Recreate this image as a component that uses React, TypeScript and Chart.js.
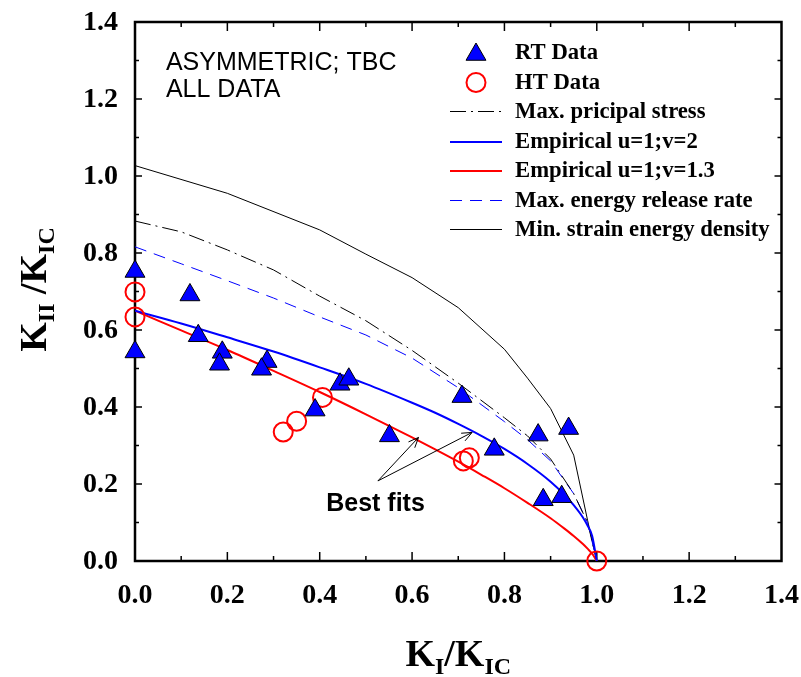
import React, { useEffect, useRef } from "react";
import { Chart, registerables } from "chart.js";
Chart.register(...registerables);

// ---- Data ----
const rtX = [0, 0, 0.119, 0.137, 0.189, 0.183, 0.286, 0.274, 0.444, 0.463, 0.39, 0.551, 0.708, 0.778, 0.873, 0.939, 0.884, 0.924];
const rtY = [0.752, 0.543, 0.691, 0.585, 0.542, 0.511, 0.518, 0.498, 0.459, 0.472, 0.392, 0.325, 0.427, 0.29, 0.327, 0.344, 0.159, 0.167];

const htX = [0, 0, 0.321, 0.35, 0.406, 0.711, 0.724, 1.0];
const htY = [0.699, 0.634, 0.335, 0.363, 0.425, 0.26, 0.268, 0];

const empX = [0, 0.1, 0.2, 0.3, 0.4, 0.5, 0.6, 0.65, 0.7, 0.75, 0.8, 0.85, 0.9, 0.93, 0.95, 0.97, 0.98, 0.99, 1.0];
const emp2Y = [0.65, 0.617, 0.581, 0.544, 0.503, 0.46, 0.411, 0.385, 0.356, 0.325, 0.291, 0.252, 0.206, 0.172, 0.145, 0.113, 0.092, 0.065, 0];
const emp13Y = [0.65, 0.599, 0.548, 0.494, 0.439, 0.381, 0.321, 0.29, 0.258, 0.224, 0.189, 0.151, 0.111, 0.084, 0.065, 0.044, 0.032, 0.019, 0];

const theoX = [0, 0.1, 0.2, 0.3, 0.4, 0.5, 0.6, 0.7, 0.8, 0.85, 0.9, 0.95, 0.98, 1.0];
const mtsY = [0.883, 0.855, 0.808, 0.756, 0.688, 0.624, 0.547, 0.462, 0.372, 0.325, 0.265, 0.175, 0.1, 0];
const merrY = [0.816, 0.772, 0.728, 0.683, 0.634, 0.587, 0.527, 0.45, 0.362, 0.315, 0.26, 0.175, 0.1, 0];

const msedX = [0, 0.2, 0.4, 0.5, 0.6, 0.7, 0.8, 0.85, 0.9, 0.95, 0.98, 1.0];
const msedY = [1.027, 0.955, 0.86, 0.797, 0.736, 0.658, 0.55, 0.475, 0.396, 0.275, 0.106, 0];

const tickValues = [0, 0.2, 0.4, 0.6, 0.8, 1.0, 1.2, 1.4];
const tickLabels = ["0.0", "0.2", "0.4", "0.6", "0.8", "1.0", "1.2", "1.4"];

const legendLabels = [
  "RT Data",
  "HT Data",
  "Max. pricipal stress",
  "Empirical u=1;v=2",
  "Empirical u=1;v=1.3",
  "Max. energy release rate",
  "Min. strain energy density",
];

const noteLines = ["ASYMMETRIC; TBC", "ALL DATA"];
const noteAt = { x: 0.067, y: [1.276, 1.206] };
const fitsLabel = "Best fits";
const fitsAt = { x: 0.414, y: 0.13 };
const arrowStart = { x: 0.526, y: 0.208 };
const arrowEnds = [
  { x: 0.614, y: 0.321 },
  { x: 0.73, y: 0.334 },
];

const zip = (xs: number[], ys: number[]) => xs.map((x, i) => ({ x, y: ys[i] }));

const SERIF = "'Liberation Serif', 'Times New Roman', serif";
const SANS = "'Liberation Sans', Arial, sans-serif";
const BLUE = "#0000ff";
const RED = "#ff0000";

type Part = { t: string; sub?: boolean };

function drawParts(ctx: CanvasRenderingContext2D, parts: Part[], cx: number, baseY: number, main: number, sub: number, subDrop: number) {
  const fm = `bold ${main}px ${SERIF}`;
  const fs = `bold ${sub}px ${SERIF}`;
  let w = 0;
  for (const p of parts) {
    ctx.font = p.sub ? fs : fm;
    w += ctx.measureText(p.t).width;
  }
  let x = cx - w / 2;
  ctx.textAlign = "left";
  ctx.textBaseline = "alphabetic";
  for (const p of parts) {
    ctx.font = p.sub ? fs : fm;
    ctx.fillText(p.t, x, baseY + (p.sub ? subDrop : 0));
    x += ctx.measureText(p.t).width;
  }
}

const overlay = {
  id: "overlay",
  beforeDatasetsDraw(chart: any) {
    const { ctx, chartArea: a, scales } = chart;
    const xs = scales.x;
    const ys = scales.y;
    ctx.save();
    ctx.strokeStyle = "#000";
    ctx.lineWidth = 1.5;
    const line = (x1: number, y1: number, x2: number, y2: number) => {
      ctx.beginPath();
      ctx.moveTo(x1, y1);
      ctx.lineTo(x2, y2);
      ctx.stroke();
    };
    for (let i = 1; i < 14; i++) {
      const v = i / 10;
      const major = i % 2 === 0;
      const px = xs.getPixelForValue(v);
      const lx = major ? 9 : 5;
      line(px, a.bottom, px, a.bottom - lx);
      line(px, a.top, px, a.top + lx);
      const py = ys.getPixelForValue(v);
      const ly = major ? 7 : 4;
      line(a.left, py, a.left + ly, py);
      line(a.right, py, a.right - ly, py);
    }
    ctx.lineWidth = 2.5;
    ctx.strokeRect(a.left, a.top, a.right - a.left, a.bottom - a.top);

    // tick labels
    ctx.fillStyle = "#000";
    ctx.font = `bold 28px ${SERIF}`;
    ctx.textBaseline = "middle";
    tickValues.forEach((v, i) => {
      ctx.textAlign = "right";
      ctx.fillText(tickLabels[i], a.left - 17, ys.getPixelForValue(v) + 1);
      ctx.textAlign = "center";
      ctx.fillText(tickLabels[i], xs.getPixelForValue(v), a.bottom + 35);
    });
    ctx.restore();
  },
  afterDraw(chart: any) {
    const { ctx, chartArea: a, scales } = chart;
    const xs = scales.x;
    const ys = scales.y;
    ctx.save();
    ctx.fillStyle = "#000";

    // Notes
    ctx.font = `25px ${SANS}`;
    ctx.textAlign = "left";
    ctx.textBaseline = "alphabetic";
    noteLines.forEach((t, i) => ctx.fillText(t, xs.getPixelForValue(noteAt.x), ys.getPixelForValue(noteAt.y[i])));

    ctx.font = `bold 25px ${SANS}`;
    ctx.fillText(fitsLabel, xs.getPixelForValue(fitsAt.x), ys.getPixelForValue(fitsAt.y));

    // Arrows
    ctx.strokeStyle = "#000";
    ctx.lineWidth = 1;
    const sx = xs.getPixelForValue(arrowStart.x);
    const sy = ys.getPixelForValue(arrowStart.y);
    for (const e of arrowEnds) {
      const ex = xs.getPixelForValue(e.x);
      const ey = ys.getPixelForValue(e.y);
      ctx.beginPath();
      ctx.moveTo(sx, sy);
      ctx.lineTo(ex, ey);
      ctx.stroke();
      const ang = Math.atan2(ey - sy, ex - sx);
      const hl = 11;
      ctx.beginPath();
      ctx.moveTo(ex - hl * Math.cos(ang - 0.4), ey - hl * Math.sin(ang - 0.4));
      ctx.lineTo(ex, ey);
      ctx.lineTo(ex - hl * Math.cos(ang + 0.4), ey - hl * Math.sin(ang + 0.4));
      ctx.stroke();
    }

    // Legend
    const mx = a.left + 341;
    const l1 = a.left + 315;
    const l2 = a.left + 367;
    const tx = a.left + 380;
    const rowY = (i: number) => Math.round(a.top + 30 + i * 29.5) + 0.5;
    ctx.font = `bold 22.7px ${SERIF}`;
    ctx.textBaseline = "middle";
    legendLabels.forEach((t, i) => {
      ctx.fillStyle = "#000";
      ctx.fillText(t, tx, rowY(i) + 1);
    });
    // triangle
    {
      const r = 11.5;
      const cy = rowY(0) + 2;
      ctx.beginPath();
      for (let k = 0; k < 3; k++) {
        const ang = -Math.PI / 2 + (k * 2 * Math.PI) / 3;
        const px = mx + r * Math.cos(ang);
        const py = cy + r * Math.sin(ang);
        if (k === 0) ctx.moveTo(px, py);
        else ctx.lineTo(px, py);
      }
      ctx.closePath();
      ctx.fillStyle = BLUE;
      ctx.fill();
      ctx.strokeStyle = "#000";
      ctx.lineWidth = 1;
      ctx.stroke();
    }
    // circle
    ctx.beginPath();
    ctx.arc(mx, rowY(1), 9.5, 0, Math.PI * 2);
    ctx.strokeStyle = RED;
    ctx.lineWidth = 2;
    ctx.stroke();
    const legLine = (i: number, color: string, width: number, dash: number[]) => {
      ctx.beginPath();
      ctx.setLineDash(dash);
      ctx.strokeStyle = color;
      ctx.lineWidth = width;
      const y = width % 2 === 0 ? Math.round(rowY(i)) : rowY(i);
      ctx.moveTo(l1, y);
      ctx.lineTo(l2, y);
      ctx.stroke();
      ctx.setLineDash([]);
    };
    legLine(2, "#000", 1, [16, 5, 2, 5]);
    legLine(3, BLUE, 2, []);
    legLine(4, RED, 2, []);
    legLine(5, BLUE, 1, [12, 8]);
    legLine(6, "#000", 1, []);

    // Axis titles
    ctx.fillStyle = "#000";
    const cxp = (a.left + a.right) / 2;
    drawParts(ctx, [{ t: "K" }, { t: "I", sub: true }, { t: "/K" }, { t: "IC", sub: true }], cxp, 666, 38, 24, 8);
    ctx.save();
    ctx.translate(46, (a.top + a.bottom) / 2 - 2);
    ctx.rotate(-Math.PI / 2);
    drawParts(ctx, [{ t: "K" }, { t: "II", sub: true }, { t: " /K" }, { t: "IC", sub: true }], 0, 0, 38, 24, 8);
    ctx.restore();

    ctx.restore();
  },
};

export default function App() {
  const ref = useRef<HTMLCanvasElement>(null);
  useEffect(() => {
    if (!ref.current) return;
    const chart = new Chart(ref.current, {
      type: "scatter",
      data: {
        datasets: [
          {
            label: "RT Data",
            data: zip(rtX, rtY),
            pointStyle: "triangle",
            pointRadius: 11.5,
            pointBackgroundColor: BLUE,
            pointBorderColor: "#000",
            pointBorderWidth: 1,
            showLine: false,
            clip: false,
          } as any,
          {
            label: "HT Data",
            data: zip(htX, htY),
            pointStyle: "circle",
            pointRadius: 9.5,
            pointBackgroundColor: "rgba(0,0,0,0)",
            pointBorderColor: RED,
            pointBorderWidth: 2,
            showLine: false,
            clip: false,
          } as any,
          {
            label: "Empirical u=1;v=2",
            data: zip(empX, emp2Y),
            showLine: true,
            borderColor: BLUE,
            borderWidth: 2,
            pointRadius: 0,
            cubicInterpolationMode: "monotone",
          } as any,
          {
            label: "Empirical u=1;v=1.3",
            data: zip(empX, emp13Y),
            showLine: true,
            borderColor: RED,
            borderWidth: 2,
            pointRadius: 0,
            cubicInterpolationMode: "monotone",
          } as any,
          {
            label: "Max. pricipal stress",
            data: zip(theoX, mtsY),
            showLine: true,
            borderColor: "#000",
            borderWidth: 1,
            borderDash: [16, 5, 2, 5],
            pointRadius: 0,
          } as any,
          {
            label: "Max. energy release rate",
            data: zip(theoX, merrY),
            showLine: true,
            borderColor: BLUE,
            borderWidth: 1,
            borderDash: [12, 8],
            pointRadius: 0,
          } as any,
          {
            label: "Min. strain energy density",
            data: zip(msedX, msedY),
            showLine: true,
            borderColor: "#000",
            borderWidth: 1,
            pointRadius: 0,
          } as any,
        ],
      },
      options: {
        animation: false,
        responsive: false,
        maintainAspectRatio: false,
        devicePixelRatio: 1,
        layout: { padding: { top: 22, right: 19.5, left: 0, bottom: 0 } },
        plugins: { legend: { display: false }, tooltip: { enabled: false } },
        scales: {
          x: {
            type: "linear",
            min: 0,
            max: 1.4,
            grid: { display: false, drawTicks: false },
            border: { display: false },
            ticks: { display: false, stepSize: 0.2 },
            afterFit: (s: any) => {
              s.height = 116;
            },
          },
          y: {
            type: "linear",
            min: 0,
            max: 1.4,
            grid: { display: false, drawTicks: false },
            border: { display: false },
            ticks: { display: false, stepSize: 0.2 },
            afterFit: (s: any) => {
              s.width = 135;
            },
          },
        },
      } as any,
      plugins: [overlay],
    });
    return () => chart.destroy();
  }, []);
  return (
    <div style={{ position: "absolute", left: 0, top: 0, width: 801, height: 677, background: "#fff" }}>
      <canvas ref={ref} width={801} height={677} style={{ width: 801, height: 677, display: "block" }} />
    </div>
  );
}
